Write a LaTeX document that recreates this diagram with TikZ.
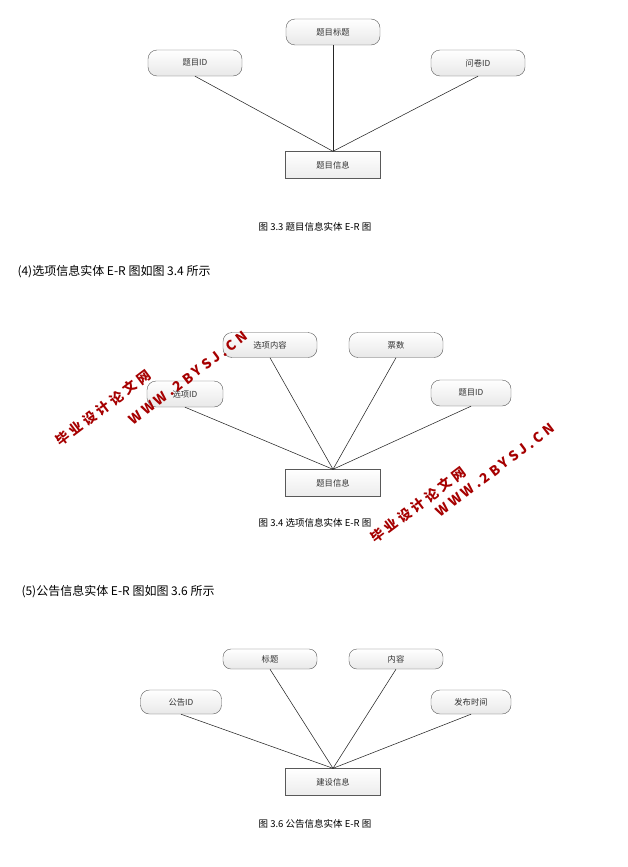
\documentclass[tikz,border=0pt]{standalone}
\usepackage{fontspec}
\setmainfont{Noto Sans CJK SC}
\begin{document}
\begin{tikzpicture}[x=1pt,y=-1pt,
 attr/.style={draw=gray!70!black,rounded corners=9pt,minimum width=#1,minimum height=26pt,inner sep=0pt,top color=white,bottom color=gray!18,font=\fontsize{8.3}{9}\selectfont,text=black!80},
 attr/.default=94pt,
 ent/.style={draw=gray!70!black,minimum width=95pt,minimum height=27pt,inner sep=0pt,top color=white,bottom color=gray!15,font=\fontsize{8.3}{9}\selectfont,text=black!80},
 conn/.style={draw=black!85,line width=0.55pt},
 captxt/.style={font=\fontsize{9.5}{10}\selectfont},
 head/.style={font=\fontsize{12}{13}\selectfont,anchor=west},
 wm/.style={font=\bfseries\fontsize{13.5}{14}\selectfont\addfontfeatures{LetterSpace=25},text=red!65!black,rotate=37}]
\useasboundingbox (0,0) rectangle (627,867);
% diagram 1
\node[attr] (a1) at (333,32) {题目标题};
\node[attr] (a2) at (195,63) {题目ID};
\node[attr] (a3) at (478,63) {问卷ID};
\node[ent] (e1) at (333,165) {题目信息};
\foreach \n in {a1,a2,a3} \draw[conn] (\n.south) -- (e1.north);
\node[captxt] (c1) at (315,227) {图 3.3 题目信息实体 E-R 图};
\node[head] (h1) at (14,272) {(4)选项信息实体 E-R 图如图 3.4 所示};
% diagram 2
\node[attr,minimum height=25pt] (b1) at (270,345) {选项内容};
\node[attr,minimum height=25pt] (b2) at (396,345) {票数};
\node[attr=76pt] (b3) at (185,394) {选项ID};
\node[attr=80pt] (b4) at (471,393) {题目ID};
\node[ent] (e2) at (333,483) {题目信息};
\foreach \n in {b1,b2,b3,b4} \draw[conn] (\n.south) -- (e2.north);
\node[captxt] (c2) at (315,523) {图 3.4 选项信息实体 E-R 图};
\node[head] (h2) at (18,592) {(5)公告信息实体 E-R 图如图 3.6 所示};
% diagram 3
\node[attr,minimum height=20pt,rounded corners=8pt] (d1) at (270,659) {标题};
\node[attr,minimum height=20pt,rounded corners=8pt] (d2) at (396,659) {内容};
\node[attr=81pt,minimum height=24pt] (d3) at (181,702) {公告ID};
\node[attr=80pt,minimum height=24pt] (d4) at (471,702) {发布时间};
\node[ent] (e3) at (333,782) {建设信息};
\foreach \n in {d1,d2,d3,d4} \draw[conn] (\n.south) -- (e3.north);
\node[captxt] (c3) at (315,824) {图 3.6 公告信息实体 E-R 图};
% watermarks
\node[wm] (w1) at (103,408) {毕业设计论文网};
\node[wm] (w2) at (188,378) {WWW.2BYSJ.CN};
\node[wm] (w3) at (418,505) {毕业设计论文网};
\node[wm] (w4) at (495,470) {WWW.2BYSJ.CN};
\end{tikzpicture}
\end{document}
